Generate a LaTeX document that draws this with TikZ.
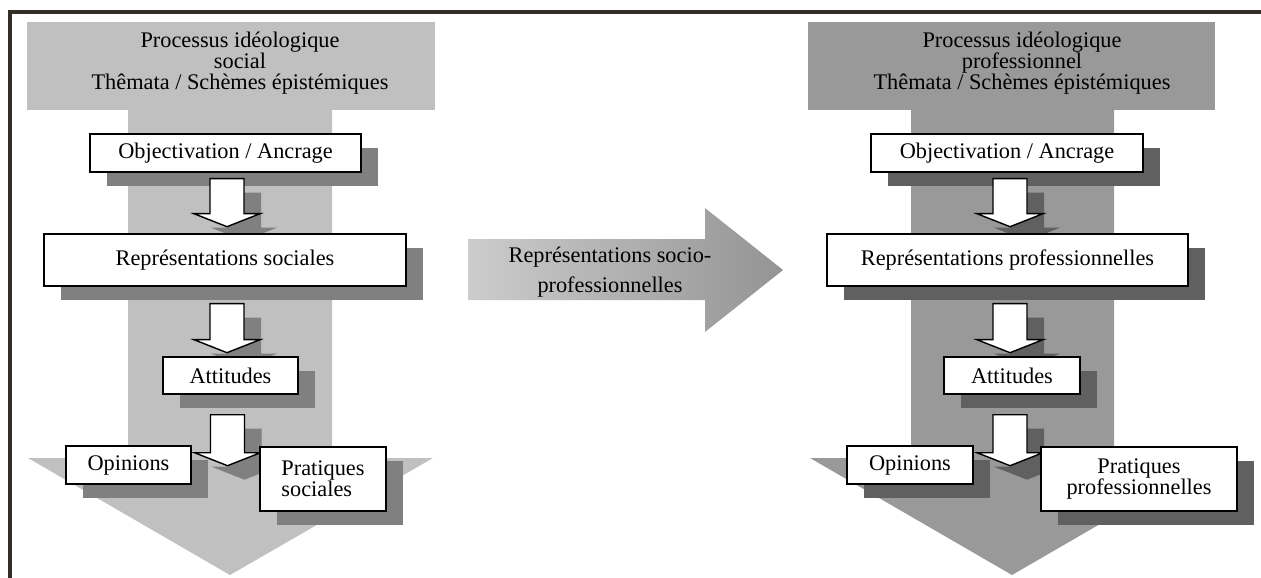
\documentclass[tikz,border=0pt]{standalone}
\usepackage{fontspec}
\setmainfont{Liberation Serif}
\usepackage{tikz}
\usetikzlibrary{calc,positioning,shadows}

\definecolor{lightL}{RGB}{192,192,192}
\definecolor{shadowL}{RGB}{128,128,128}
\definecolor{lightR}{RGB}{153,153,153}
\definecolor{shadowR}{RGB}{96,96,96}
\definecolor{frameC}{RGB}{50,46,40}

% white block arrow from #1 down to #2, shadow colour #3
\newcommand{\whitearrow}[3]{%
  \fill[#3,transform canvas={shift={(17,14)}}] ($(#1)+(-17,0)$) -- ($(#2)+(-17,-13)$) -- ($(#2)+(-33,-13)$) -- (#2)
    -- ($(#2)+(33,-13)$) -- ($(#2)+(17,-13)$) -- ($(#1)+(17,0)$) -- cycle;
  \draw[fill=white,line width=0.8pt] ($(#1)+(-17,0)$) -- ($(#2)+(-17,-13)$) -- ($(#2)+(-33,-13)$) -- (#2)
    -- ($(#2)+(33,-13)$) -- ($(#2)+(17,-13)$) -- ($(#1)+(17,0)$) -- cycle;
}

\begin{document}
\begin{tikzpicture}[x=0.02cm,y=-0.02cm,font=\fontsize{12.7}{11.8}\selectfont]
    \tikzstyle{box}=[draw, line width=0.8pt, fill=white, inner sep=0pt, align=center]
    \tikzstyle{shadL}=[drop shadow={shadow xshift=0.34cm, shadow yshift=-0.28cm, fill=shadowL, draw=none, opacity=1}]
    \tikzstyle{shadR}=[drop shadow={shadow xshift=0.34cm, shadow yshift=-0.28cm, fill=shadowR, draw=none, opacity=1}]

    \useasboundingbox (0,0) rectangle (1261,578);
    \draw[frameC, line width=2.3pt] (10,578) -- (10,12) -- (1261,12);

    % left column
    \fill[lightL] (27,22) rectangle (435,110);
    \fill[lightL] (128,110) -- (128,458) -- (28,458) -- (230,575) -- (433,458) -- (332,458) -- (332,110) -- cycle;
    \node (procL) at (240,63) [align=center] {Processus idéologique\\social\\Thêmata / Schèmes épistémiques};

    \node[box,shadL,minimum width=5.42cm,minimum height=0.76cm] (objL) at (225.5,153) {Objectivation / Ancrage};
    \coordinate (a1s) at ($(objL.south)+(1.5,6)$);
    \coordinate (a1e) at ($(a1s |- objL.south)+(0,54)$);
    \whitearrow{a1s}{a1e}{shadowL}
    \node[box,shadL,minimum width=7.24cm,minimum height=1.04cm] (repL) at (225,260) {Représentations sociales};
    \coordinate (a2s) at ($(repL.south)+(2,17)$);
    \coordinate (a2e) at ($(repL.south)+(2,66)$);
    \whitearrow{a2s}{a2e}{shadowL}
    \node[box,shadL,minimum width=2.70cm,minimum height=0.74cm] (attL) at (230.5,375.5) {Attitudes};
    \coordinate (a3s) at ($(attL.south)+(-3,20)$);
    \coordinate (a3e) at ($(attL.south)+(-3,71)$);
    \whitearrow{a3s}{a3e}{shadowL}
    \node[box,shadL,minimum width=2.50cm,minimum height=0.76cm] (opiL) at (128.5,465) {Opinions};
    \node[box,shadL,minimum width=2.52cm,minimum height=1.28cm,align=left,font=\fontsize{12.7}{12}\selectfont] (praL) at (323,479) {Pratiques\\sociales};

    % middle arrow
    \shade[left color=black!20, right color=black!42] (468,239) -- (705,239) -- (705,208) -- (783,270) -- (705,332) -- (705,300) -- (468,300) -- cycle;
    \node (socio) at (610,272) [align=center,font=\fontsize{12.7}{17}\selectfont] {Représentations socio-\\professionnelles};

    % right column
    \fill[lightR] (808,22) rectangle (1215,110);
    \fill[lightR] (911,110) -- (911,458) -- (810,458) -- (1012,575) -- (1214,458) -- (1114,458) -- (1114,110) -- cycle;
    \node (procR) at (1022,63) [align=center] {Processus idéologique\\professionnel\\Thêmata / Schèmes épistémiques};

    \node[box,shadR,minimum width=5.44cm,minimum height=0.76cm] (objR) at (1007,153) {Objectivation / Ancrage};
    \coordinate (b1s) at ($(objR.south)+(3,6)$);
    \coordinate (b1e) at ($(objR.south)+(3,54)$);
    \whitearrow{b1s}{b1e}{shadowR}
    \node[box,shadR,minimum width=7.22cm,minimum height=1.04cm] (repR) at (1007.5,260) {Représentations professionnelles};
    \coordinate (b2s) at ($(repR.south)+(2.5,17)$);
    \coordinate (b2e) at ($(repR.south)+(2.5,66)$);
    \whitearrow{b2s}{b2e}{shadowR}
    \node[box,shadR,minimum width=2.72cm,minimum height=0.74cm] (attR) at (1012,375.5) {Attitudes};
    \coordinate (b3s) at ($(attR.south)+(-2,20)$);
    \coordinate (b3e) at ($(attR.south)+(-2,71)$);
    \whitearrow{b3s}{b3e}{shadowR}
    \node[box,shadR,minimum width=2.52cm,minimum height=0.76cm] (opiR) at (910,465) {Opinions};
    \node[box,shadR,minimum width=3.92cm,minimum height=1.28cm,font=\fontsize{12.7}{12}\selectfont] (praR) at (1139,479) {Pratiques\\professionnelles};
\end{tikzpicture}
\end{document}
